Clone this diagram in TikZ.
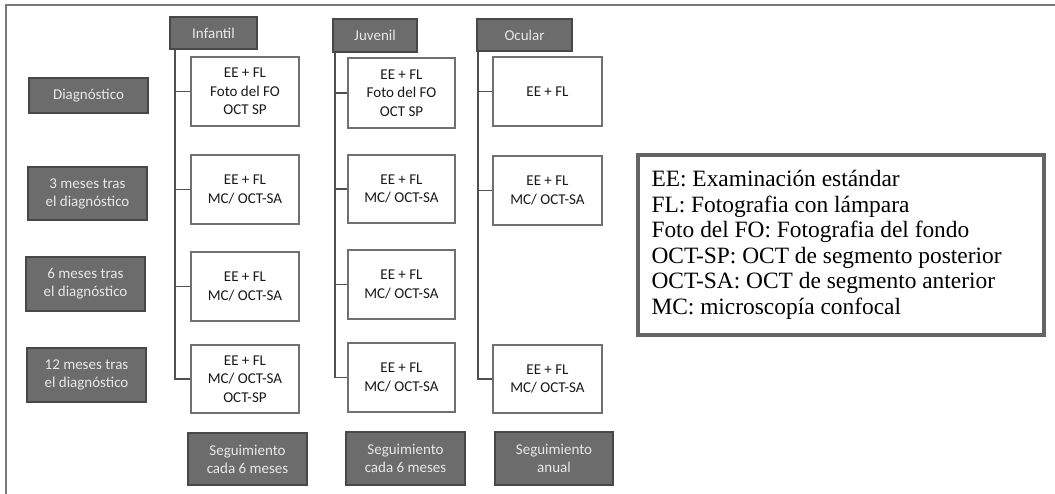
\documentclass[tikz,border=0pt]{standalone}
\usepackage{fontspec}
\setmainfont{Carlito}
\newfontfamily\legfont{Liberation Serif}
\usetikzlibrary{calc}
\definecolor{boxgray}{RGB}{108,108,108}
\definecolor{boxedge}{RGB}{72,72,72}
\definecolor{labtext}{RGB}{232,232,232}
\definecolor{lineg}{RGB}{80,80,80}
\definecolor{wedge}{RGB}{112,112,112}
\definecolor{frameg}{RGB}{120,120,120}
\definecolor{legedge}{RGB}{100,100,100}
\begin{document}
\begin{tikzpicture}[x=1pt,y=-1pt,
  graybox/.style={draw=boxedge, line width=1.5pt, fill=boxgray, text=labtext,
    font=\fontsize{15}{18}\selectfont, align=center, inner sep=0pt, minimum width=119pt},
  hdrbox/.style={draw=boxedge, line width=1.5pt, fill=boxgray, text=labtext,
    font=\fontsize{15}{18}\selectfont, align=center, inner sep=0pt, minimum height=32pt},
  whitebox/.style={draw=wedge, line width=1.8pt, fill=white, text=black!90,
    font=\fontsize{15}{18.5}\selectfont, align=center, inner sep=0pt},
  conn/.style={draw=lineg, line width=1.9pt, line join=miter},
  legbox/.style={draw=legedge, line width=3.4pt, fill=white, inner sep=0pt,
    minimum width=406pt, minimum height=180pt},
  legtext/.style={inner sep=0pt, align=left, text=black,
    font=\legfont\fontsize{23.4}{25.5}\selectfont}]
\useasboundingbox (0,0) rectangle (1055,494);
% outer frame
\draw[frameg, line width=2pt] (6,494) -- (6,5) -- (1055,5);

% row labels
\node[graybox, minimum height=35pt] (diag) at (88.5,95.5) {Diagnóstico};
\node[graybox, minimum height=53pt] (m3) at (87.5,193.5) {3 meses tras\\el diagnóstico};
\node[graybox, minimum height=54pt] (m6) at (85.5,284) {6 meses tras\\el diagnóstico};
\node[graybox, minimum height=54pt] (m12) at (86.5,375) {12 meses tras\\el diagnóstico};

% headers
\node[hdrbox, minimum width=87pt] (inf) at (213.5,33) {Infantil};
\node[hdrbox, minimum width=84pt, minimum height=33pt] (juv) at (375,35.5) {Juvenil};
\node[hdrbox, minimum width=95pt] (ocu) at (524.5,35) {Ocular};

% Infantil column
\node[whitebox, minimum width=108pt, minimum height=69pt] (i1) at (245,91.5) {EE + FL\\Foto del FO\\OCT SP};
\node[whitebox, minimum width=108pt, minimum height=69pt] (i2) at (245,189.5) {EE + FL\\MC/ OCT-SA};
\node[whitebox, minimum width=108pt, minimum height=69pt] (i3) at (245,286.5) {EE + FL\\MC/ OCT-SA};
\node[whitebox, minimum width=108pt, minimum height=68pt] (i4) at (245,379) {EE + FL\\MC/ OCT-SA\\OCT-SP};

% Juvenil column
\node[whitebox, minimum width=107pt, minimum height=70pt] (j1) at (401.5,93) {EE + FL\\Foto del FO\\OCT SP};
\node[whitebox, minimum width=107pt, minimum height=68pt] (j2) at (401.5,189) {EE + FL\\MC/ OCT-SA};
\node[whitebox, minimum width=107pt, minimum height=69pt] (j3) at (401.5,284.5) {EE + FL\\MC/ OCT-SA};
\node[whitebox, minimum width=107pt, minimum height=69pt] (j4) at (401.5,377.5) {EE + FL\\MC/ OCT-SA};

% Ocular column
\node[whitebox, minimum width=109pt, minimum height=69pt] (o1) at (547.5,91.5) {EE + FL};
\node[whitebox, minimum width=109pt, minimum height=69pt] (o2) at (547.5,190.5) {EE + FL\\MC/ OCT-SA};
\node[whitebox, minimum width=109pt, minimum height=68pt] (o4) at (547.5,379) {EE + FL\\MC/ OCT-SA};

% follow-up boxes
\node[graybox, minimum height=52pt] (s1) at (247.5,459) {Seguimiento\\cada 6 meses};
\node[graybox, minimum height=53pt] (s2) at (405.5,458.5) {Seguimiento\\cada 6 meses};
\node[graybox, minimum width=118pt, minimum height=53pt] (s3) at (554,458.5) {Seguimiento\\anual};

% connectors
\coordinate (ti) at ($(inf.south west)+(6,0)$);
\coordinate (tj) at ($(juv.south west)+(3,0)$);
\coordinate (to) at ($(ocu.south west)+(1.5,0)$);
\draw[conn] (ti) |- (i4.west);
\draw[conn] (ti |- i1.west) -- (i1.west);
\draw[conn] (ti |- i2.west) -- (i2.west);
\draw[conn] (ti |- i3.west) -- (i3.west);
\draw[conn] (tj) |- (j4.west);
\draw[conn] (tj |- j1.west) -- (j1.west);
\draw[conn] (tj |- j2.west) -- (j2.west);
\draw[conn] (tj |- j3.west) -- (j3.west);
\draw[conn] (to) |- (o4.west);
\draw[conn] (to |- o1.west) -- (o1.west);
\draw[conn] (to |- o2.west) -- (o2.west);

% legend
\node[legbox] (leg) at (841,245) {};
\node[legtext, anchor=north west] (legt) at ($(leg.north west)+(15,17)$) {EE: Examinación estándar\\
FL: Fotografia con lámpara\\
Foto del FO: Fotografia del fondo\\
OCT-SP: OCT de segmento posterior\\
OCT-SA: OCT de segmento anterior\\
MC: microscopía confocal};
\end{tikzpicture}
\end{document}
